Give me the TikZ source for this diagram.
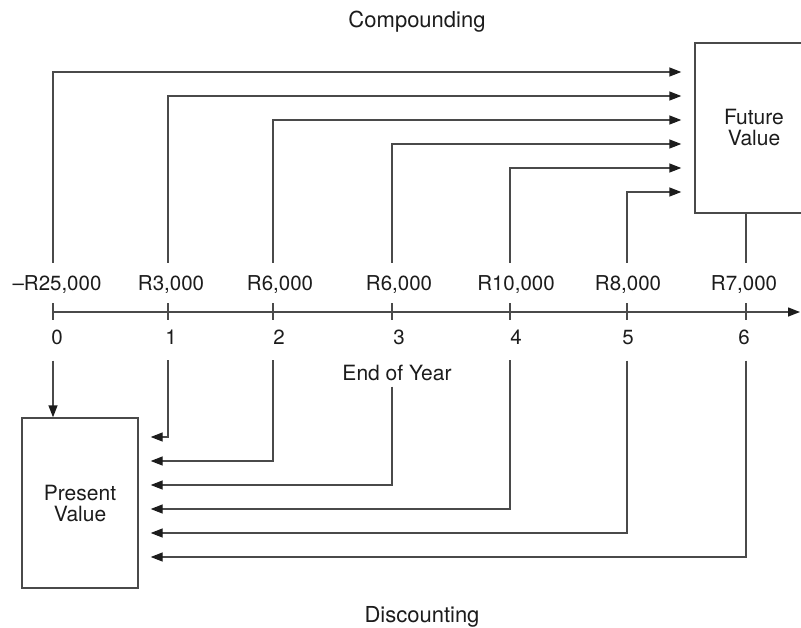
\documentclass[tikz,border=0pt]{standalone}
\usepackage{fontspec}
\setmainfont{TeX Gyre Heros}
\usetikzlibrary{arrows.meta}
\definecolor{ln}{HTML}{4A4A4A}
\definecolor{tx}{HTML}{1C1C1C}
\begin{document}
\begin{tikzpicture}[x=1pt,y=-1pt,
  line/.style={draw=ln,line width=1.4pt},
  arr/.style={line,-{Triangle[length=12pt,width=9pt,color=tx]}},
  val/.style={anchor=base,text=tx,font=\fontsize{20.5}{21}\selectfont,inner xsep=0pt,inner ysep=12pt},
  yr/.style={anchor=base,text=tx,font=\fontsize{20.5}{21}\selectfont,inner xsep=0pt,inner ysep=16pt},
  ttl/.style={anchor=base,text=tx,font=\fontsize{22}{22}\selectfont,inner sep=0pt},
  valbox/.style={line,rectangle,text=tx,align=center,font=\fontsize{21}{21}\selectfont,inner sep=0pt}]
\clip (0,0) rectangle (801,627);
\fill[white] (0,0) rectangle (801,627);
% tick positions on the axis
\coordinate (t0) at (53,312);
\coordinate (t1) at (168,312);
\coordinate (t2) at (273,312);
\coordinate (t3) at (392,312);
\coordinate (t4) at (510,312);
\coordinate (t5) at (627,312);
\coordinate (t6) at (746,312);
\coordinate (axend) at (800,312);
% titles
\node[ttl] (comp) at (417,27) {Compounding};
\node[ttl] (disc) at (422,622) {Discounting};
% boxes
\node[valbox,minimum width=118pt,minimum height=170pt] (FV) at (754,128) {Future\\Value};
\node[valbox,minimum width=116pt,minimum height=170pt] (PV) at (80,503) {Present\\Value};
% cash flow values
\node[val] (v0) at (57,290) {\textendash R25,000};
\node[val] (v1) at (171,290) {R3,000};
\node[val] (v2) at (280,290) {R6,000};
\node[val] (v3) at (399,290) {R6,000};
\node[val] (v4) at (516,290) {R10,000};
\node[val] (v5) at (628,290) {R8,000};
\node[val] (v6) at (744,290) {R7,000};
% years
\node[yr] (y0) at (57,344) {0};
\node[yr] (y1) at (171,344) {1};
\node[yr] (y2) at (279,344) {2};
\node[yr] (y3) at (399,344) {3};
\node[yr] (y4) at (516,344) {4};
\node[yr] (y5) at (628,344) {5};
\node[yr] (y6) at (744,344) {6};
\node[anchor=base,text=tx,font=\fontsize{21}{21}\selectfont,inner xsep=0pt,inner ysep=6pt] (eoy) at (397,380) {End of Year};
% time axis
\draw[arr] (t0) -- (axend);
\foreach \i in {0,...,6} {\draw[line] (t\i) ++(0,-9) -- ++(0,17);}
% compounding
\draw[arr,shorten >=13pt] (t0 |- v0.north) |- (FV.west |- 0,72);
\draw[arr,shorten >=13pt] (t1 |- v1.north) |- (FV.west |- 0,96);
\draw[arr,shorten >=13pt] (t2 |- v2.north) |- (FV.west |- 0,120);
\draw[arr,shorten >=13pt] (t3 |- v3.north) |- (FV.west |- 0,144);
\draw[arr,shorten >=13pt] (t4 |- v4.north) |- (FV.west |- 0,168);
\draw[arr,shorten >=13pt] (t5 |- v5.north) |- (FV.west |- 0,192);
\draw[line] (t6 |- v6.north) -- (t6 |- FV.south);
% discounting
\draw[arr] (t0 |- y0.south) -- (t0 |- PV.north);
\draw[arr,shorten >=12pt] (t1 |- y1.south) |- (PV.east |- 0,437);
\draw[arr,shorten >=12pt] (t2 |- y2.south) |- (PV.east |- 0,461);
\draw[arr,shorten >=12pt] (t3 |- eoy.south) |- (PV.east |- 0,485);
\draw[arr,shorten >=12pt] (t4 |- y4.south) |- (PV.east |- 0,509);
\draw[arr,shorten >=12pt] (t5 |- y5.south) |- (PV.east |- 0,533);
\draw[arr,shorten >=12pt] (t6 |- y6.south) |- (PV.east |- 0,557);
\end{tikzpicture}
\end{document}
